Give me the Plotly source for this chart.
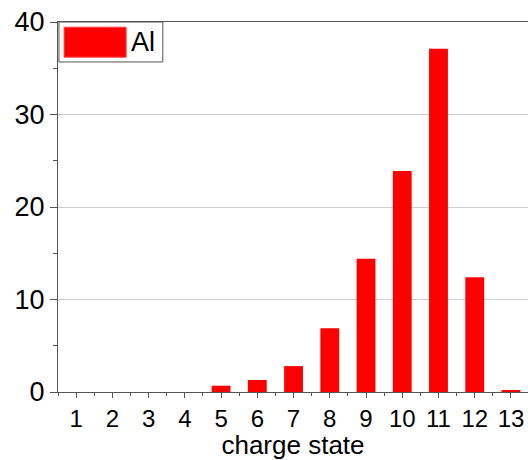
import plotly.graph_objects as go

charge_states = list(range(1, 14))
abundance = [0, 0, 0, 0, 0.68, 1.3, 2.8, 6.9, 14.4, 23.9, 37.1, 12.4, 0.2]
series_name = "Al"
x_title = "charge state"
y_ticks = [0, 10, 20, 30, 40]

fig = go.Figure()
fig.add_trace(go.Bar(
    x=charge_states, y=abundance, name=series_name, width=0.52,
    marker=dict(color="#ff0000", line=dict(width=0)),
    showlegend=False,
))

font = "Liberation Sans, Arial, sans-serif"
fig.update_layout(
    width=528, height=460,
    margin=dict(l=58, r=0, t=22, b=68),
    paper_bgcolor="white", plot_bgcolor="white",
    font=dict(family=font, size=24, color="black"),
    xaxis=dict(
        range=[0.5, 13.47], tickmode="array", tickvals=charge_states,
        ticktext=[str(c) for c in charge_states],
        showline=True, linecolor="#555", linewidth=1, mirror=True,
        ticks="outside", ticklen=5, tickcolor="#555",
        minor=dict(ticks="outside", ticklen=3, tickcolor="#555", dtick=1, tick0=0.5, showgrid=False),
        showgrid=False, zeroline=False,
        tickfont=dict(size=24, family=font),
        title=dict(text=x_title, font=dict(size=26, family=font), standoff=7),
    ),
    yaxis=dict(
        range=[0, 40], tickmode="array", tickvals=y_ticks,
        showline=True, linecolor="#555", linewidth=1,
        ticks="outside", ticklen=7, tickcolor="#555",
        minor=dict(ticks="outside", ticklen=4, tickcolor="#555", dtick=5, tick0=0, showgrid=False),
        showgrid=True, gridcolor="#cccccc", gridwidth=1, zeroline=False,
        tickfont=dict(size=27, family=font),
    ),
)

# legend box drawn as a shape + annotation
fig.add_shape(type="rect", xref="paper", yref="paper", x0=0.002, x1=0.223, y0=0.892, y1=1.0,
              line=dict(color="#555", width=1), fillcolor="white", layer="above")
fig.add_shape(type="rect", xref="paper", yref="paper", x0=0.013, x1=0.145, y0=0.905, y1=0.986,
              line=dict(color="#ff4040", width=1), fillcolor="#ff0000", layer="above")
fig.add_annotation(text=series_name, xref="paper", yref="paper", x=0.152, y=0.946,
                   xanchor="left", yanchor="middle", showarrow=False,
                   font=dict(size=27, family=font, color="black"))

fig.write_html("out.html")
